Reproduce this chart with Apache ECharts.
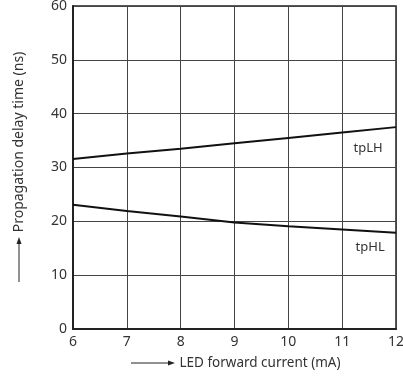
<!DOCTYPE html>
<html>
<head>
<meta charset="utf-8">
<script src="https://cdn.jsdelivr.net/npm/echarts@6/dist/echarts.min.js"></script>
<style>
  html, body { margin: 0; padding: 0; background: #fff; }
  #chart { width: 403px; height: 378px; }
</style>
</head>
<body>
<div id="chart"></div>
<script>
var currents = [6, 7, 8, 9, 10, 11, 12];
var tpLH = [31.6, 32.6, 33.5, 34.5, 35.5, 36.5, 37.5];
var tpHL = [23.1, 21.9, 20.9, 19.8, 19.1, 18.5, 17.9];
var seriesNames = ['tpLH', 'tpHL'];
var labelSpots = [[11.48, 33.5], [11.52, 15.1]];

var chart = echarts.init(document.getElementById('chart'));
var font = '"Noto Sans", "Open Sans", sans-serif';

function pairs(xs, ys) {
    return xs.map(function (x, i) { return [x, ys[i]]; });
}

function makeSeries(name, values, spot) {
    return {
        name: name,
        type: 'line',
        data: pairs(currents, values),
        symbol: 'none',
        lineStyle: { color: '#111', width: 2 },
        markPoint: {
            symbol: 'circle',
            symbolSize: 1,
            itemStyle: { color: 'transparent' },
            label: {
                show: true,
                formatter: name,
                color: '#333',
                fontFamily: font,
                fontSize: 13
            },
            data: [{ coord: spot }]
        }
    };
}

var option = {
    animation: false,
    grid: {
        left: 73, top: 6, right: 7, bottom: 49,
        outerBoundsMode: 'none',
        containLabel: false,
        show: true,
        borderColor: '#222',
        borderWidth: 1.5
    },
    xAxis: {
        type: 'value',
        min: 6, max: 12, interval: 1,
        axisLine: { lineStyle: { color: '#222', width: 2 } },
        axisTick: { show: false },
        axisLabel: { color: '#333', fontFamily: font, fontSize: 14, margin: 6 },
        splitLine: { lineStyle: { color: '#444', width: 1 } }
    },
    yAxis: {
        type: 'value',
        min: 0, max: 60, interval: 10,
        axisLine: { show: true, lineStyle: { color: '#222', width: 2 } },
        axisTick: { show: false },
        axisLabel: { color: '#333', fontFamily: font, fontSize: 14, margin: 6 },
        splitLine: { lineStyle: { color: '#444', width: 1 } }
    },
    graphic: [
        {
            type: 'text',
            x: 260, y: 363,
            style: {
                text: 'LED forward current (mA)',
                fill: '#333', font: '13.5px ' + font,
                align: 'center', verticalAlign: 'middle'
            }
        },
        {
            type: 'line',
            shape: { x1: 131, y1: 363, x2: 170, y2: 363 },
            style: { stroke: '#222', lineWidth: 1 }
        },
        {
            type: 'polygon',
            shape: { points: [[175, 363], [168, 360.5], [168, 365.5]] },
            style: { fill: '#222' }
        },
        {
            type: 'text',
            x: 19, y: 142,
            rotation: Math.PI / 2,
            style: {
                text: 'Propagation delay time (ns)',
                fill: '#333', font: '14px ' + font,
                align: 'center', verticalAlign: 'middle'
            }
        },
        {
            type: 'line',
            shape: { x1: 19, y1: 282, x2: 19, y2: 243 },
            style: { stroke: '#222', lineWidth: 1 }
        },
        {
            type: 'polygon',
            shape: { points: [[19, 237], [16.5, 244], [21.5, 244]] },
            style: { fill: '#222' }
        }
    ],
    series: [
        makeSeries(seriesNames[0], tpLH, labelSpots[0]),
        makeSeries(seriesNames[1], tpHL, labelSpots[1])
    ]
};

chart.setOption(option);
</script>
</body>
</html>
